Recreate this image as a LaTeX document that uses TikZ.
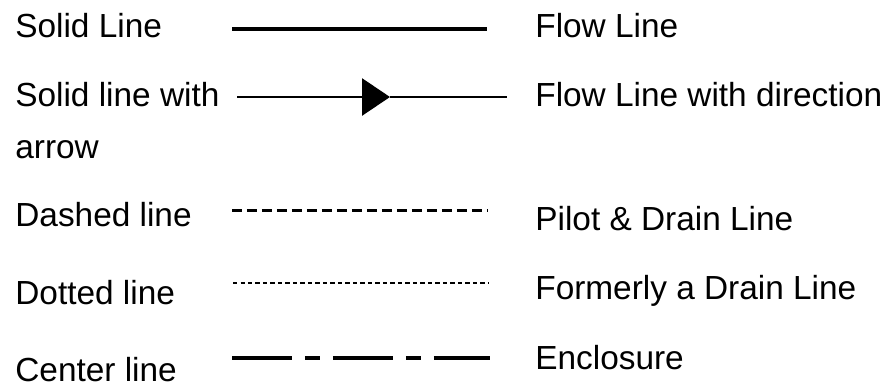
\documentclass[tikz,border=0pt]{standalone}
\usepackage{fontspec}
\setmainfont{Liberation Sans}
\usetikzlibrary{arrows.meta}

\tikzset{
  lbl/.style={anchor=base west, inner sep=0pt, font=\fontsize{19}{22}\selectfont},
  flowline/.style={line width=1.8pt},
  dirline/.style={line width=1.6pt},
  pilotline/.style={line width=1.7pt, dash pattern=on 0.2cm off 0.1cm},
  drainline/.style={line width=1.5pt, dash pattern=on 0.085cm off 0.065cm},
  centerline/.style={line width=1.9pt, dash pattern=on 1.2cm off 0.26cm on 0.3cm off 0.26cm}
}

\begin{document}
\begin{tikzpicture}[x=0.02cm,y=-0.02cm]
\useasboundingbox (0,0) rectangle (890,387);

% left column
\node (solid) [lbl] at (15,37) {Solid Line};
\node (arrowa) [lbl] at (15,106) {Solid line with};
\node (arrowb) [lbl] at (15,158) {arrow};
\node (dashed) [lbl] at (15,226) {Dashed line};
\node (dotted) [lbl] at (15,304) {Dotted line};
\node (center) [lbl] at (15,381) {Center line};

% right column
\node (flow) [lbl] at (535,37) {Flow Line};
\node (flowdir) [lbl] at (535,106) {Flow Line with direction};
\node (pilot) [lbl] at (535,230) {Pilot \& Drain Line};
\node (former) [lbl] at (535,299) {Formerly a Drain Line};
\node (encl) [lbl] at (535,369) {Enclosure};

% line samples
\coordinate (l1a) at (232,29);  \coordinate (l1b) at (487,29);
\coordinate (l2a) at (237,97);  \coordinate (l2m) at (390,97);
\coordinate (l2b) at (507,97);
\coordinate (l3a) at (232,210); \coordinate (l3b) at (487,210);
\coordinate (l4a) at (233,283); \coordinate (l4b) at (488,283);
\coordinate (l5a) at (232,358); \coordinate (l5b) at (490,358);

\draw [flowline] (l1a) -- (l1b);
\draw [dirline, -{Triangle[length=0.56cm,width=0.74cm]}] (l2a) -- (l2m);
\draw [dirline] (l2m) -- (l2b);
\draw [pilotline] (l3a) -- (l3b);
\draw [drainline] (l4a) -- (l4b);
\draw [centerline] (l5a) -- (l5b);
\end{tikzpicture}
\end{document}
